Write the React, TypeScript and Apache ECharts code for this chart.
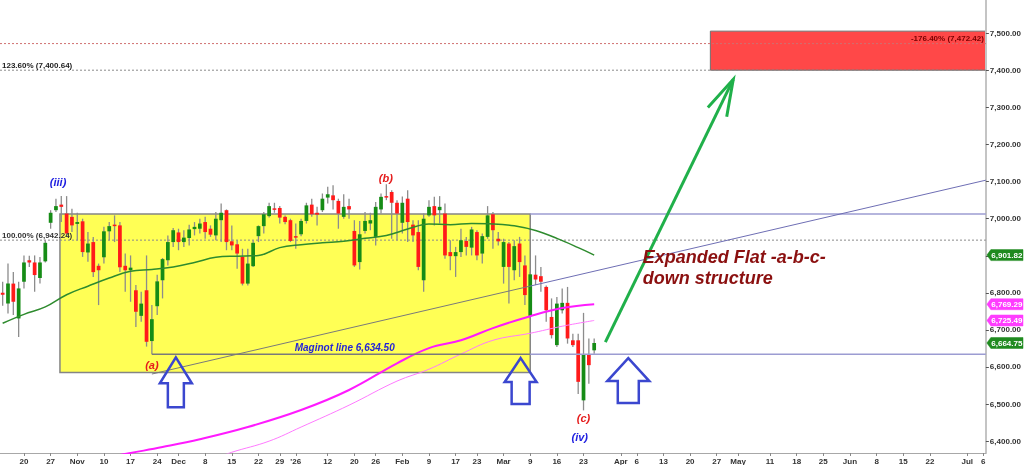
import React, { useEffect, useRef } from 'react';
import * as echarts from 'echarts';

const FIRST_DAY = '2025-10-14';
const DAY_COUNT = 185;
const HOLIDAYS = ['2025-11-27', '2025-12-25', '2026-01-01', '2026-01-19', '2026-02-16'];

// [open, high, low, close] per trading day starting 2025-10-14
const OHLC: number[][] = [
  [6800, 6830, 6765, 6795], [6771, 6879, 6744, 6825], [6825, 6856, 6740, 6776], [6731, 6830, 6681, 6812],
  [6830, 6901, 6812, 6882], [6888, 6900, 6870, 6882], [6882, 6901, 6803, 6848], [6840, 6897, 6825, 6882],
  [6885, 6942, 6882, 6935], [6989, 7023, 6973, 7016], [7023, 7054, 7018, 7034], [7038, 7061, 6991, 7032],
  [7014, 7061, 6951, 6960], [7005, 7027, 6964, 6982], [6986, 7016, 6942, 6991], [6993, 7000, 6897, 6910],
  [6909, 6964, 6884, 6933], [6937, 6951, 6843, 6856], [6873, 6879, 6767, 6861], [6896, 6978, 6879, 6966],
  [6966, 6991, 6942, 6980], [6984, 7009, 6937, 6982], [6982, 6991, 6856, 6869], [6873, 6906, 6803, 6861],
  [6861, 6901, 6776, 6868], [6807, 6821, 6708, 6749], [6738, 6803, 6722, 6771], [6807, 6901, 6655, 6668],
  [6670, 6767, 6634.5, 6729], [6764, 6849, 6740, 6831], [6834, 6894, 6785, 6891], [6888, 6955, 6874, 6937],
  [6937, 6975, 6924, 6969], [6963, 6973, 6915, 6937], [6937, 6969, 6924, 6949], [6948, 6984, 6928, 6971],
  [6972, 6991, 6955, 6978], [6973, 7000, 6960, 6987], [6991, 7005, 6946, 6964], [6973, 6982, 6951, 6957],
  [6955, 7018, 6942, 7000], [6996, 7041, 6937, 7016], [7023, 7025, 6915, 6937], [6939, 6982, 6915, 6928],
  [6931, 6942, 6865, 6906], [6897, 6919, 6820, 6825], [6825, 6919, 6820, 6879], [6872, 6942, 6870, 6935],
  [6953, 6982, 6937, 6980], [6980, 7018, 6960, 7012], [7007, 7043, 7003, 7034], [7028, 7043, 7016, 7025],
  [7029, 7034, 6987, 7003], [7005, 7009, 6985, 6991], [6996, 7000, 6937, 6940], [6953, 6987, 6919, 6950],
  [6958, 7000, 6953, 6994], [6994, 7043, 6987, 7036], [7038, 7054, 7005, 7012], [7016, 7032, 6982, 7011],
  [7023, 7068, 7018, 7054], [7057, 7086, 7041, 7066], [7063, 7090, 7025, 7050], [7048, 7054, 6973, 7014],
  [7005, 7066, 7000, 7032], [7034, 7054, 7000, 7025], [6967, 6996, 6870, 6874], [6883, 6994, 6863, 6958],
  [6967, 7018, 6960, 6994], [6987, 7016, 6969, 6996], [6951, 7045, 6928, 7032], [7025, 7068, 7014, 7059],
  [7061, 7093, 7050, 7057], [7072, 7077, 6946, 7043], [7043, 7050, 6942, 7014], [6989, 7060, 6960, 7043],
  [7054, 7077, 6937, 6991], [6984, 6996, 6937, 6955], [6964, 6996, 6861, 6870], [6834, 7014, 6803, 7000],
  [7009, 7050, 7005, 7032], [7034, 7059, 6982, 7009], [7023, 7061, 6987, 7032], [7014, 7041, 6892, 6901],
  [6910, 6942, 6861, 6899], [6899, 6924, 6843, 6910], [6910, 6973, 6897, 6942], [6940, 6951, 6901, 6924],
  [6922, 6978, 6901, 6971], [6964, 6969, 6888, 6901], [6906, 6960, 6879, 6953], [6951, 7034, 6946, 7009],
  [7012, 7018, 6919, 6969], [6946, 6964, 6928, 6939], [6870, 6946, 6825, 6937], [6933, 6937, 6771, 6870],
  [6861, 6942, 6834, 6926], [6933, 6951, 6843, 6883], [6874, 6901, 6767, 6794], [6738, 6856, 6730, 6850],
  [6849, 6901, 6821, 6836], [6845, 6870, 6803, 6830], [6816, 6820, 6722, 6753], [6735, 6785, 6677, 6686],
  [6659, 6789, 6654, 6771], [6753, 6812, 6744, 6773], [6773, 6816, 6663, 6677], [6672, 6690, 6654, 6659],
  [6672, 6690, 6527, 6560], [6510, 6746, 6483, 6634], [6634, 6677, 6555, 6605], [6645, 6677, 6636, 6664.75],
];

const TICK_LABELS: [string, string][] = [
  ['2025-10-20', '20'], ['2025-10-27', '27'], ['2025-11-03', 'Nov'], ['2025-11-10', '10'], ['2025-11-17', '17'],
  ['2025-11-24', '24'], ['2025-12-01', 'Dec'], ['2025-12-08', '8'], ['2025-12-15', '15'], ['2025-12-22', '22'],
  ['2025-12-29', '29'], ['2026-01-02', "'26"], ['2026-01-12', '12'], ['2026-01-20', '20'], ['2026-01-26', '26'],
  ['2026-02-02', 'Feb'], ['2026-02-09', '9'], ['2026-02-17', '17'], ['2026-02-23', '23'], ['2026-03-02', 'Mar'],
  ['2026-03-09', '9'], ['2026-03-16', '16'], ['2026-03-23', '23'], ['2026-04-01', 'Apr'], ['2026-04-06', '6'],
  ['2026-04-13', '13'], ['2026-04-20', '20'], ['2026-04-27', '27'], ['2026-05-01', 'May'], ['2026-05-11', '11'],
  ['2026-05-18', '18'], ['2026-05-25', '25'], ['2026-06-01', 'Jun'], ['2026-06-08', '8'], ['2026-06-15', '15'],
  ['2026-06-22', '22'], ['2026-07-01', 'Jul'], ['2026-07-06', '6'],
];

// moving averages: [day index, value]
const MA_GREEN: [number, number][] = [
  [0, 6718], [4, 6742], [8, 6762], [12, 6795], [16, 6818], [20, 6840], [24, 6858], [28, 6863], [32, 6870],
  [36, 6882], [40, 6896], [44, 6899], [48, 6901], [52, 6922], [56, 6930], [60, 6935], [64, 6939], [68, 6947],
  [72, 6955], [76, 6972], [80, 6986], [84, 6984], [88, 6987], [92, 6986], [96, 6981], [100, 6968], [104, 6947],
  [108, 6922], [111, 6901.82],
];
const MA_MAGENTA: [number, number][] = [
  [20, 6357], [24, 6368], [30, 6384], [37, 6405], [46, 6438], [56, 6484], [65, 6538], [74, 6610], [80, 6651],
  [86, 6672], [92, 6705], [99, 6737], [105, 6759], [111, 6769.29],
];
const MA_PINK: [number, number][] = [
  [40, 6354], [43, 6370], [50, 6400], [56, 6438], [65, 6497], [74, 6562], [80, 6594], [86, 6635], [92, 6672],
  [99, 6691], [105, 6710], [111, 6725.49],
];

const Y_TICKS = [6400, 6500, 6600, 6700, 6800, 6900, 7000, 7100, 7200, 7300, 7400, 7500];
const Y_MIN = 6368;
const Y_MAX = 7590;

const FIB_LINES = [
  { value: 6942.24, label: '100.00% (6,942.24)', color: '#8a8a8a', textColor: '#333333', side: 'left' },
  { value: 7400.64, label: '123.60% (7,400.64)', color: '#8a8a8a', textColor: '#222222', side: 'left' },
  { value: 7472.42, label: '-176.40% (7,472.42)', color: '#d07070', textColor: '#7a0000', side: 'right' },
];

const PRICE_TAGS = [
  { value: 6901.82, color: '#1f8a1f' },
  { value: 6769.29, color: '#ff3cff' },
  { value: 6725.49, color: '#ff3cff' },
  { value: 6664.75, color: '#1f8a1f' },
];

const YELLOW_BOX = { from: 10.75, to: 99, top: 7013, bottom: 6585 };
const RED_BOX = { from: 132.8, top: 7506, bottom: 7400.64 };
const MAGINOT = { from: 28, split: 99, value: 6634.5 };
const TREND = { from: [28, 6581], to: [184.5, 7104], split: 99 };
const GREEN_ARROW = { from: [113.1, 6667], to: [137.1, 7376] };
const BLUE_ARROWS = [
  { i: 32.5, p: 6626, hw: 16, hh: 26, sw: 8, h: 50 },
  { i: 97.2, p: 6624, hw: 16, hh: 24, sw: 9, h: 46 },
  { i: 117.4, p: 6624, hw: 21, hh: 23, sw: 10.5, h: 45 },
];
const WAVE_LABELS = [
  { text: '(iii)', i: 10.4, p: 7098, color: '#1f1fe0' },
  { text: '(b)', i: 71.9, p: 7109, color: '#e51c1c' },
  { text: '(a)', i: 28, p: 6605, color: '#e51c1c' },
  { text: '(c)', i: 109, p: 6462, color: '#e51c1c' },
  { text: '(iv)', i: 108.3, p: 6411, color: '#1f1fe0' },
];
const MAGINOT_TEXT = { text: 'Maginot line 6,634.50', i: 54.8, p: 6653 };
const STRUCTURE_TEXT = [
  { text: 'Expanded Flat -a-b-c-', i: 120.1, p: 6896 },
  { text: 'down structure', i: 120.1, p: 6839 },
];

const FONT = "'Liberation Sans', Arial, sans-serif";

function buildDates(): string[] {
  const out: string[] = [];
  const d = new Date(FIRST_DAY + 'T00:00:00Z');
  while (out.length < DAY_COUNT) {
    const s = d.toISOString().slice(0, 10);
    const wd = d.getUTCDay();
    if (wd !== 0 && wd !== 6 && !HOLIDAYS.includes(s)) out.push(s);
    d.setUTCDate(d.getUTCDate() + 1);
  }
  return out;
}

function sparse(points: [number, number][]) {
  const arr: (number | null)[] = new Array(OHLC.length).fill(null);
  points.forEach(([i, v]) => { arr[i] = v; });
  return arr;
}

function fmt(v: number) {
  return v.toLocaleString('en-US', { minimumFractionDigits: 2, maximumFractionDigits: 2 });
}

export default function App() {
  const ref = useRef<HTMLDivElement>(null);

  useEffect(() => {
    if (!ref.current) return;
    const chart = echarts.init(ref.current, undefined, { renderer: 'svg' });
    const dates = buildDates();
    const labelMap: Record<string, string> = {};
    TICK_LABELS.forEach(([d, t]) => { labelMap[d] = t; });

    const option: any = {
      animation: false,
      grid: { left: 0, right: 37, top: 0, bottom: 12, containLabel: false },
      xAxis: {
        type: 'category',
        data: dates,
        boundaryGap: true,
        axisLine: { lineStyle: { color: '#a8a8a8', width: 1 } },
        axisTick: {
          show: true, length: 3, alignWithLabel: true,
          interval: (_i: number, v: string) => v in labelMap,
          lineStyle: { color: '#888' },
        },
        axisLabel: {
          interval: (_i: number, v: string) => v in labelMap,
          formatter: (v: string) => labelMap[v] || '',
          fontFamily: FONT, fontSize: 8, fontWeight: 'bold', color: '#333', margin: 4,
        },
        splitLine: { show: false },
      },
      yAxis: {
        type: 'value',
        position: 'right',
        min: Y_MIN,
        max: Y_MAX,
        scale: true,
        axisLine: { show: true, lineStyle: { color: '#c4c4c4', width: 2 } },
        axisTick: { show: true, length: 3, customValues: Y_TICKS, lineStyle: { color: '#555' } },
        axisLabel: {
          customValues: Y_TICKS,
          formatter: (v: number) => fmt(v),
          fontFamily: FONT, fontSize: 8, fontWeight: 'bold', color: '#333', margin: 4,
        },
        splitLine: { show: false },
      },
      series: [
        {
          type: 'custom',
          name: 'price',
          z: 2,
          clip: true,
          data: OHLC.map((r, i) => [i, r[0], r[3], r[2], r[1]]),
          encode: { x: 0, y: [1, 2, 3, 4] },
          renderItem: (_params: any, api: any) => {
            const i = api.value(0);
            const o = api.value(1);
            const c = api.value(2);
            const l = api.value(3);
            const h = api.value(4);
            const pH = api.coord([i, h]);
            const pL = api.coord([i, l]);
            const pO = api.coord([i, o]);
            const pC = api.coord([i, c]);
            const bw = api.size([1, 0])[0] * 0.7;
            const up = c >= o;
            const y1 = Math.min(pO[1], pC[1]);
            const hgt = Math.max(Math.abs(pO[1] - pC[1]), 1.5);
            return {
              type: 'group',
              children: [
                { type: 'line', shape: { x1: pH[0], y1: pH[1], x2: pL[0], y2: pL[1] }, style: { stroke: '#8c8c8c', lineWidth: 1.3 } },
                { type: 'rect', shape: { x: pO[0] - bw / 2, y: y1, width: bw, height: hgt }, style: { fill: up ? '#168c16' : '#ff1a1a' } },
              ],
            };
          },
        },
        {
          type: 'line', name: 'ma-green', z: 3, data: sparse(MA_GREEN), connectNulls: true, smooth: 0.4,
          symbol: 'none', lineStyle: { color: '#2e8b2e', width: 1.5 },
        },
        {
          type: 'line', name: 'ma-magenta', z: 3, data: sparse(MA_MAGENTA), connectNulls: true, smooth: 0.4,
          symbol: 'none', lineStyle: { color: '#ff1aff', width: 2 },
        },
        {
          type: 'line', name: 'ma-pink', z: 3, data: sparse(MA_PINK), connectNulls: true, smooth: 0.4,
          symbol: 'none', lineStyle: { color: '#ff7aff', width: 1 },
        },
      ],
    };
    chart.setOption(option);

    const x0 = chart.convertToPixel({ xAxisIndex: 0 }, 0) as number;
    const x1 = chart.convertToPixel({ xAxisIndex: 0 }, 1) as number;
    const X = (i: number) => x0 + (x1 - x0) * i;
    const Y = (p: number) => chart.convertToPixel({ yAxisIndex: 0 }, p) as number;
    const left = X(-0.5);
    const right = X(DAY_COUNT - 0.5);

    const els: any[] = [];
    const txt = (text: string, x: number, y: number, font: string, fill: string, align: string, valign: string, z = 20) => ({
      type: 'text', z,
      style: { text, x, y, font, fill, align, textAlign: align, verticalAlign: valign, textVerticalAlign: valign },
    });
    const seg = (xa: number, ya: number, xb: number, yb: number, stroke: string, lineWidth: number, z = 6, lineDash?: number[]) => ({
      type: 'line', z, shape: { x1: xa, y1: ya, x2: xb, y2: yb }, style: { stroke, lineWidth, lineDash },
    });

    // yellow box
    els.push({
      type: 'rect', z: 0,
      shape: { x: X(YELLOW_BOX.from), y: Y(YELLOW_BOX.top), width: X(YELLOW_BOX.to) - X(YELLOW_BOX.from), height: Y(YELLOW_BOX.bottom) - Y(YELLOW_BOX.top) },
      style: { fill: '#ffff55', stroke: '#858585', lineWidth: 1.5 },
    });
    // red target box
    els.push({
      type: 'rect', z: 0,
      shape: { x: X(RED_BOX.from), y: Y(RED_BOX.top), width: right - X(RED_BOX.from), height: Y(RED_BOX.bottom) - Y(RED_BOX.top) },
      style: { fill: '#ff4848', stroke: '#707070', lineWidth: 1 },
    });
    // fib lines
    FIB_LINES.forEach((f) => {
      const y = Y(f.value);
      els.push(seg(left, y, right, y, f.color, 1, 1, [2, 2]));
      if (f.side === 'left') {
        els.push(txt(f.label, left + 2, y - 1, `bold 8px ${FONT}`, f.textColor, 'left', 'bottom'));
      } else {
        els.push(txt(f.label, right - 2, y - 1, `bold 8px ${FONT}`, f.textColor, 'right', 'bottom'));
      }
    });
    // box top continuation
    els.push(seg(X(YELLOW_BOX.to), Y(YELLOW_BOX.top), right, Y(YELLOW_BOX.top), '#9c9cd2', 1.5));
    // Maginot line
    els.push(seg(X(MAGINOT.from), Y(MAGINOT.value), X(MAGINOT.split), Y(MAGINOT.value), '#7a7a7a', 1.5));
    els.push(seg(X(MAGINOT.split), Y(MAGINOT.value), right, Y(MAGINOT.value), '#9c9cd2', 1.5));
    // trend line
    const tp = (i: number) => TREND.from[1] + (i - TREND.from[0]) / (TREND.to[0] - TREND.from[0]) * (TREND.to[1] - TREND.from[1]);
    els.push(seg(X(TREND.from[0]), Y(TREND.from[1]), X(TREND.split), Y(tp(TREND.split)), '#7a7a7a', 1));
    els.push(seg(X(TREND.split), Y(tp(TREND.split)), X(TREND.to[0]), Y(TREND.to[1]), '#6e6eb4', 1));

    // green arrow
    const ax1 = X(GREEN_ARROW.from[0]), ay1 = Y(GREEN_ARROW.from[1]);
    const ax2 = X(GREEN_ARROW.to[0]), ay2 = Y(GREEN_ARROW.to[1]);
    const ang = Math.atan2(ay1 - ay2, ax1 - ax2);
    const wing = 38, spread = (16 * Math.PI) / 180;
    els.push(seg(ax1, ay1, ax2, ay2, '#20b04a', 3, 8));
    els.push({
      type: 'polyline', z: 8,
      shape: { points: [
        [ax2 + wing * Math.cos(ang + spread), ay2 + wing * Math.sin(ang + spread)],
        [ax2, ay2],
        [ax2 + wing * Math.cos(ang - spread), ay2 + wing * Math.sin(ang - spread)],
      ] },
      style: { stroke: '#20b04a', lineWidth: 3, fill: 'none' },
    });

    // blue arrows
    BLUE_ARROWS.forEach((a) => {
      const tx = X(a.i), ty = Y(a.p);
      els.push({
        type: 'polygon', z: 8,
        shape: { points: [
          [tx, ty], [tx + a.hw, ty + a.hh], [tx + a.sw, ty + a.hh], [tx + a.sw, ty + a.h],
          [tx - a.sw, ty + a.h], [tx - a.sw, ty + a.hh], [tx - a.hw, ty + a.hh],
        ] },
        style: { fill: 'none', stroke: '#3b47cf', lineWidth: 2.5, lineJoin: 'miter' },
      });
    });

    // wave labels
    WAVE_LABELS.forEach((w) => {
      els.push(txt(w.text, X(w.i), Y(w.p), `italic bold 11px ${FONT}`, w.color, 'center', 'middle'));
    });
    els.push(txt(MAGINOT_TEXT.text, X(MAGINOT_TEXT.i), Y(MAGINOT_TEXT.p), `italic bold 10px ${FONT}`, '#2424d8', 'left', 'middle'));
    STRUCTURE_TEXT.forEach((s) => {
      els.push(txt(s.text, X(s.i), Y(s.p), `italic bold 18px ${FONT}`, '#8b1010', 'left', 'middle'));
    });

    // price tags on right axis
    PRICE_TAGS.forEach((t) => {
      const y = Y(t.value);
      const xa = right + 1;
      els.push({
        type: 'polygon', z: 30,
        shape: { points: [[xa, y], [xa + 4, y - 5.5], [1023, y - 5.5], [1023, y + 5.5], [xa + 4, y + 5.5]] },
        style: { fill: t.color, stroke: t.color, lineWidth: 0.5 },
      });
      els.push(txt(fmt(t.value), xa + 20, y + 0.5, `bold 8px ${FONT}`, '#ffffff', 'center', 'middle', 31));
    });

    chart.setOption({ graphic: { elements: els } });

    return () => { chart.dispose(); };
  }, []);

  return <div ref={ref} style={{ position: 'fixed', left: 0, top: 0, width: 1024, height: 465 }} />;
}
